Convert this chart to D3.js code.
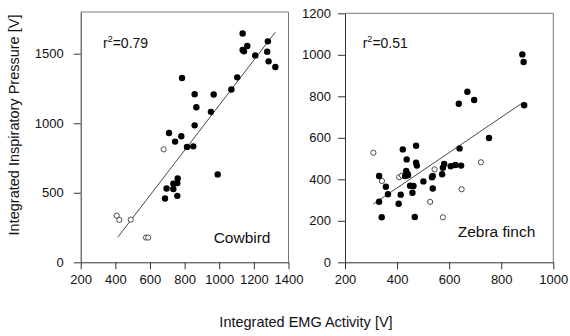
<!DOCTYPE html>
<html>
<head>
<meta charset="utf-8">
<script src="https://cdn.jsdelivr.net/npm/d3@7"></script>
<style>
  body { margin: 0; background: #fff; }
  svg { display: block; font-family: "Liberation Sans", Arial, sans-serif; }
</style>
</head>
<body>
<svg id="viz" width="570" height="336"></svg>
<script>
'use strict';
/* data: [EMG, pressure] */
var cowbirdFilled = [
  [1135, 1645], [1281, 1589], [1135, 1527], [1143, 1517], [1162, 1556],
  [1277, 1515], [1208, 1488], [1285, 1445], [1324, 1404], [1104, 1330],
  [785, 1325], [1070, 1243], [858, 1209], [968, 1207], [868, 1115],
  [952, 1082], [858, 985], [710, 930], [781, 907], [745, 868],
  [814, 830], [850, 834], [991, 632], [760, 603], [758, 570],
  [735, 565], [696, 531], [735, 527], [687, 459], [758, 478]
];
var cowbirdOpen = [
  [679, 812], [408, 336], [423, 305], [489, 307], [577, 178], [590, 178]
];
var cowbirdFit = [[414, 180], [1324, 1655]];

var finchFilled = [
  [881, 1002], [886, 965], [888, 757], [670, 822], [696, 782],
  [637, 764], [753, 599], [640, 549], [473, 562], [422, 544],
  [437, 496], [473, 480], [476, 466], [435, 440], [440, 426],
  [431, 416], [442, 420], [581, 474], [576, 456], [573, 424],
  [606, 463], [624, 469], [646, 466], [537, 416], [534, 410],
  [501, 390], [450, 369], [463, 368], [331, 416], [357, 364],
  [365, 328], [414, 326], [459, 335], [537, 356], [331, 292],
  [406, 282], [341, 217], [468, 218]
];
var finchOpen = [
  [309, 528], [342, 392], [408, 410], [419, 418], [544, 448],
  [527, 291], [576, 217], [648, 352], [722, 482]
];
var finchFit = [[309, 281], [886, 772]];

var cowbirdXTicks = [200, 400, 600, 800, 1000, 1200, 1400];
var cowbirdYTicks = [0, 500, 1000, 1500];
var finchXTicks = [200, 400, 600, 800, 1000];
var finchYTicks = [0, 200, 400, 600, 800, 1000, 1200];

var svg = d3.select('#viz');
var fmt = d3.format('d');

function styleAxis(a) {
  a.select('.domain').attr('stroke', '#333');
  a.selectAll('.tick line').attr('stroke', '#333');
  a.selectAll('text').attr('font-size', 13).attr('fill', '#111')
    .attr('font-family', '"Liberation Sans", Arial, sans-serif');
}

function panel(opts) {
  var x, y, g, line, r2;

  x = d3.scaleLinear().domain(opts.xDomain).range([opts.left, opts.right]);
  y = d3.scaleLinear().domain(opts.yDomain).range([opts.bottom, opts.top]);
  g = svg.append('g');

  // frame (top / right)
  g.append('path')
    .attr('d', 'M' + opts.left + ',' + opts.top + 'H' + opts.right + 'V' + opts.bottom)
    .attr('fill', 'none').attr('stroke', '#777').attr('stroke-width', 1);

  g.append('g')
    .attr('transform', 'translate(0,' + opts.bottom + ')')
    .call(d3.axisBottom(x).tickValues(opts.xTicks).tickFormat(fmt)
      .tickSize(7).tickPadding(5).tickSizeOuter(0))
    .call(styleAxis);

  g.append('g')
    .attr('transform', 'translate(' + opts.left + ',0)')
    .call(d3.axisLeft(y).tickValues(opts.yTicks).tickFormat(fmt)
      .tickSize(7).tickPadding(opts.yPad).tickSizeOuter(0))
    .call(styleAxis);

  line = d3.line().x(function(d) { return x(d[0]); }).y(function(d) { return y(d[1]); });
  g.append('path').datum(opts.fit)
    .attr('d', line).attr('fill', 'none').attr('stroke', '#333').attr('stroke-width', 0.9);

  g.selectAll('circle.open').data(opts.open).enter().append('circle')
    .attr('class', 'open')
    .attr('cx', function(d) { return x(d[0]); })
    .attr('cy', function(d) { return y(d[1]); })
    .attr('r', 2.6).attr('fill', '#fff').attr('stroke', '#222').attr('stroke-width', 0.8);

  g.selectAll('circle.filled').data(opts.filled).enter().append('circle')
    .attr('class', 'filled')
    .attr('cx', function(d) { return x(d[0]); })
    .attr('cy', function(d) { return y(d[1]); })
    .attr('r', 3.2).attr('fill', '#000');

  r2 = g.append('text').attr('x', opts.r2x).attr('y', 48)
    .attr('font-size', 14).attr('fill', '#111');
  r2.append('tspan').text('r');
  r2.append('tspan').attr('font-size', 9).attr('dy', -6).text('2');
  r2.append('tspan').attr('dy', 6).text('=' + opts.r2);

  g.append('text').attr('x', opts.right - 18).attr('y', opts.nameY)
    .attr('text-anchor', 'end').attr('font-size', 15.5).attr('fill', '#111')
    .text(opts.name);
}

panel({
  left: 80.7, right: 288.5, top: 12, bottom: 262.3,
  xDomain: [200, 1400], yDomain: [0, 1800],
  xTicks: cowbirdXTicks, yTicks: cowbirdYTicks, yPad: 10,
  filled: cowbirdFilled, open: cowbirdOpen, fit: cowbirdFit,
  r2: '0.79', r2x: 103, name: 'Cowbird', nameY: 243
});

panel({
  left: 345, right: 553.3, top: 13.3, bottom: 262.3,
  xDomain: [200, 1000], yDomain: [0, 1200],
  xTicks: finchXTicks, yTicks: finchYTicks, yPad: 7,
  filled: finchFilled, open: finchOpen, fit: finchFit,
  r2: '0.51', r2x: 362.7, name: 'Zebra finch', nameY: 237
});

svg.append('text')
  .attr('transform', 'translate(19,125) rotate(-90)')
  .attr('text-anchor', 'middle').attr('font-size', 14.5).attr('fill', '#111')
  .text('Integrated Inspiratory Pressure [V]');

svg.append('text')
  .attr('x', 306).attr('y', 327)
  .attr('text-anchor', 'middle').attr('font-size', 14.5).attr('fill', '#111')
  .text('Integrated EMG Activity [V]');
</script>
</body>
</html>
